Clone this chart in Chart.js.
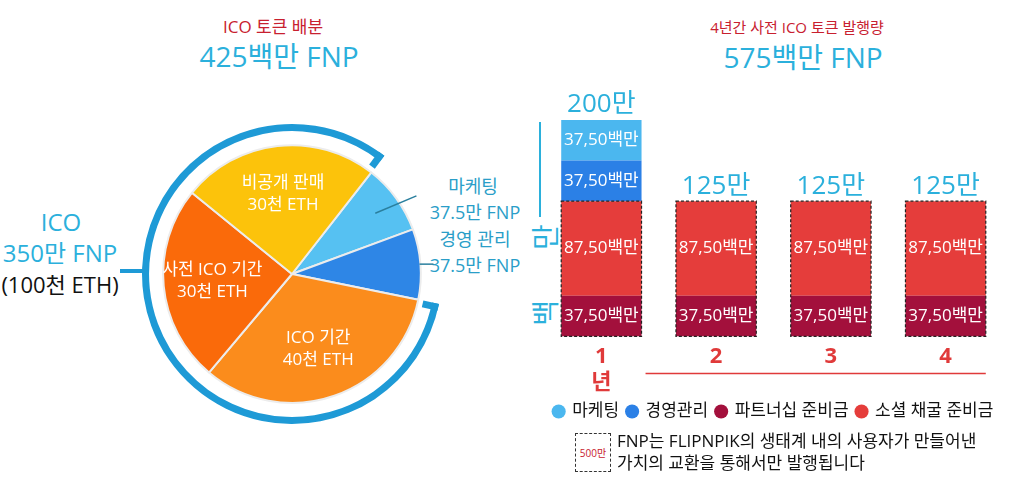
<!DOCTYPE html>
<html><head><meta charset="utf-8">
<script src="https://cdn.jsdelivr.net/npm/chart.js@4.4.1/dist/chart.umd.min.js"></script>
<style>
html,body{margin:0;padding:0;background:#fff;width:1024px;height:478px;overflow:hidden;font-family:'Open Sans','Noto Sans CJK KR',sans-serif;}
.t{position:absolute;white-space:nowrap;transform:translate(-50%,-50%);line-height:1;}
.red{color:#c8202f;}
.cy{color:#2bb0dc;}
.teal{color:#2a9ec8;}
#pieWrap{position:absolute;left:112px;top:94px;width:360px;height:360px;}
#barWrap{position:absolute;left:530px;top:0px;width:494px;height:432px;}
</style></head><body>
<div class="t red" style="left:273px;top:26px;font-size:17px;">ICO 토큰 배분</div>
<div class="t cy" style="left:279px;top:56px;font-size:28px;">425백만 FNP</div>
<div class="t red" style="left:797px;top:27px;font-size:15px;">4년간 사전 ICO 토큰 발행량</div>
<div class="t cy" style="left:803px;top:57px;font-size:28px;">575백만 FNP</div>

<div class="t cy" style="left:61px;top:222px;font-size:24px;">ICO</div>
<div class="t cy" style="left:60px;top:253px;font-size:24px;">350만 FNP</div>
<div class="t" style="left:60px;top:284px;font-size:22px;color:#111;">(100천 ETH)</div>

<div class="t teal" style="left:473px;top:186px;font-size:18px;">마케팅</div>
<div class="t teal" style="left:475px;top:212px;font-size:18px;">37.5만 FNP</div>
<div class="t teal" style="left:475px;top:239px;font-size:18px;">경영 관리</div>
<div class="t teal" style="left:475px;top:265px;font-size:18px;">37.5만 FNP</div>

<div style="position:absolute;left:539px;top:122px;width:2px;height:95px;background:#2bb0dc;"></div>
<div class="t cy" style="left:545px;top:275px;font-size:28px;letter-spacing:50px;padding-left:50px;transform:translate(-50%,-50%) rotate(-90deg);">백만</div>

<div id="pieWrap"><canvas id="pie"></canvas></div>
<div id="barWrap"><canvas id="bar"></canvas></div>

<div style="position:absolute;left:575px;top:433px;width:36px;height:39px;border:1.5px dashed #333;box-sizing:border-box;"></div>
<div class="t" style="left:593px;top:453px;font-size:10px;color:#c8202f;">500만</div>
<div style="position:absolute;left:617px;top:430px;font-size:17px;line-height:22px;color:#111;white-space:nowrap;">FNP는 FLIPNPIK의 생태계 내의 사용자가 만들어낸<br>가치의 교환을 통해서만 발행됩니다</div>

<script>
// ---------- data ----------
const pieLabels = ['마케팅', '경영 관리', 'ICO 기간', '사전 ICO 기간', '비공개 판매'];
const pieValues = [37.5, 37.5, 140, 105, 105];          // 만 FNP
const pieEth = [null, null, 40, 30, 30];                 // 천 ETH
const pieColors = ['#56c1f2', '#2e86e6', '#fb8c1c', '#fa6a0a', '#fcc30b'];
const icoRing = [37.5, 37.5, 350];                       // ICO share of the 425
const ringColors = ['rgba(0,0,0,0)', 'rgba(0,0,0,0)', '#1e9ad6'];

const years = ['1', '2', '3', '4'];
const yearUnit = '년';
const partnership = [37.5, 37.5, 37.5, 37.5];
const socialMining = [87.5, 87.5, 87.5, 87.5];
const management = [37.5, 0, 0, 0];
const marketing = [37.5, 0, 0, 0];
const legendOrder = ['마케팅', '경영관리', '파트너십 준비금', '소셜 채굴 준비금'];

Chart.defaults.font.family = "'Open Sans','Noto Sans CJK KR',sans-serif";
Chart.defaults.animation = false;
const FONT = "'Open Sans','Noto Sans CJK KR',sans-serif";

// ---------- pie ----------
const pieDecor = {
  id: 'pieDecor',
  afterDatasetsDraw(chart) {
    const ctx = chart.ctx;
    ctx.save();
    const ring = chart.getDatasetMeta(0).data[2];
    const cx = ring.x, cy = ring.y, ro = ring.outerRadius, ri = ring.innerRadius;
    const w = ro - ri;
    ctx.strokeStyle = '#1e9ad6';
    ctx.lineWidth = w;
    [[ring.startAngle, 1], [ring.endAngle, -1]].forEach(([a, d]) => {
      const aa = a + d * (w / 2) / ro;
      ctx.beginPath();
      ctx.moveTo(cx + Math.cos(aa) * (ro), cy + Math.sin(aa) * (ro));
      ctx.lineTo(cx + Math.cos(aa) * (ri - 9), cy + Math.sin(aa) * (ri - 9));
      ctx.stroke();
    });
    ctx.lineWidth = 4;
    ctx.beginPath();
    ctx.moveTo(cx - ro + 1, cy - 3);
    ctx.lineTo(cx - ro - 22, cy - 3);
    ctx.stroke();

    const meta = chart.getDatasetMeta(2);
    ctx.fillStyle = '#fff';
    ctx.font = '17px ' + FONT;
    ctx.textAlign = 'center';
    ctx.textBaseline = 'middle';
    meta.data.forEach((el, i) => {
      if (pieEth[i] == null) return;
      const mid = (el.startAngle + el.endAngle) / 2;
      const r = el.outerRadius * 0.62;
      const x = el.x + Math.cos(mid) * r, y = el.y + Math.sin(mid) * r;
      ctx.fillText(pieLabels[i], x, y - 11);
      ctx.fillText(pieEth[i] + '천 ETH', x, y + 11);
    });
    // leader lines
    ctx.strokeStyle = '#2a7f9e';
    ctx.lineWidth = 1.5;
    const m = meta.data[0];
    const ma = (m.startAngle + m.endAngle) / 2;
    ctx.beginPath();
    ctx.moveTo(m.x + Math.cos(ma) * m.outerRadius * 0.8, m.y + Math.sin(ma) * m.outerRadius * 0.8);
    ctx.lineTo(m.x + Math.cos(ma + 0.07) * m.outerRadius * 1.14, m.y + Math.sin(ma + 0.07) * m.outerRadius * 1.14);
    ctx.stroke();
    const g = meta.data[1];
    const ga = (g.startAngle + g.endAngle) / 2;
    const gx = g.x + Math.cos(ga) * (g.outerRadius + 1), gy = g.y + Math.sin(ga) * (g.outerRadius + 1);
    ctx.beginPath();
    ctx.moveTo(gx - 2, gy);
    ctx.lineTo(gx + 12, gy);
    ctx.stroke();
    ctx.restore();
  }
};

new Chart(document.getElementById('pie'), {
  type: 'pie',
  data: {
    labels: pieLabels,
    datasets: [
      { data: icoRing, backgroundColor: ringColors, borderWidth: 0, weight: 7 },
      { data: [425], backgroundColor: ['rgba(0,0,0,0)'], borderWidth: 0, weight: 14 },
      { data: pieValues, backgroundColor: pieColors, borderColor: '#ececec', borderWidth: 2, weight: 128 }
    ]
  },
  options: {
    responsive: true, maintainAspectRatio: false,
    rotation: 38,
    layout: { padding: 30 },
    plugins: { legend: { display: false }, tooltip: { enabled: false } }
  },
  plugins: [pieDecor]
});

// ---------- bars ----------
const barDecor = {
  id: 'barDecor',
  afterDatasetsDraw(chart) {
    const ctx = chart.ctx;
    const ys = chart.scales.y;
    ctx.save();
    ctx.font = '17px ' + FONT;
    ctx.fillStyle = '#fff';
    ctx.textAlign = 'center';
    ctx.textBaseline = 'middle';
    chart.data.datasets.forEach((ds, di) => {
      chart.getDatasetMeta(di).data.forEach((el, i) => {
        const v = ds.data[i];
        if (!v) return;
        ctx.fillText(v.toFixed(2).replace('.', ',') + '백만', el.x, (el.y + el.base) / 2);
      });
    });
    const pM = chart.getDatasetMeta(0), sM = chart.getDatasetMeta(1);
    ctx.setLineDash([3, 2]);
    ctx.strokeStyle = '#222';
    ctx.lineWidth = 1.2;
    pM.data.forEach((el, i) => {
      const top = sM.data[i].y, bot = el.base, w = el.width;
      ctx.strokeRect(el.x - w / 2, top, w, bot - top);
    });
    ctx.setLineDash([]);
    ctx.font = '26px ' + FONT;
    ctx.fillStyle = '#2bb0dc';
    ctx.textBaseline = 'bottom';
    pM.data.forEach((el, i) => {
      const total = chart.data.datasets.reduce((s, d) => s + (d.data[i] || 0), 0);
      ctx.fillText(total + '만', el.x, ys.getPixelForValue(total) - 2);
    });
    const first = pM.data[0], last = pM.data[pM.data.length - 1];
    ctx.strokeStyle = '#e03a3a';
    ctx.lineWidth = 1.5;
    ctx.beginPath();
    const ly = chart.chartArea.bottom + 37;
    ctx.moveTo(first.x + first.width / 2 + 4, ly);
    ctx.lineTo(last.x + last.width / 2, ly);
    ctx.stroke();
    ctx.restore();
  }
};

new Chart(document.getElementById('bar'), {
  type: 'bar',
  data: {
    labels: years,
    datasets: [
      { label: '파트너십 준비금', data: partnership, backgroundColor: '#a3103c' },
      { label: '소셜 채굴 준비금', data: socialMining, backgroundColor: '#e53d3b' },
      { label: '경영관리', data: management, backgroundColor: '#2b80e6' },
      { label: '마케팅', data: marketing, backgroundColor: '#4bb7ef' }
    ]
  },
  options: {
    responsive: true, maintainAspectRatio: false,
    layout: { padding: { left: 14, right: 21, top: 120, bottom: 2 } },
    datasets: { bar: { barPercentage: 1, categoryPercentage: 0.7, borderWidth: 0 } },
    scales: {
      x: {
        stacked: true,
        grid: { display: false }, border: { display: false },
        ticks: {
          color: '#e03a3a', padding: 0,
          font: { size: 22, weight: 'bold', lineHeight: 1.15 },
          callback: (v, i) => i === 0 ? [years[i], yearUnit] : years[i]
        }
      },
      y: { stacked: true, display: false, min: 0, max: 200 }
    },
    plugins: {
      tooltip: { enabled: false },
      legend: {
        position: 'bottom',
        labels: {
          usePointStyle: true, pointStyle: 'circle', boxWidth: 10, boxHeight: 10,
          padding: 8, color: '#111', font: { size: 17 },
          sort: (a, b) => legendOrder.indexOf(a.text) - legendOrder.indexOf(b.text)
        }
      }
    }
  },
  plugins: [barDecor]
});
</script>
</body></html>
